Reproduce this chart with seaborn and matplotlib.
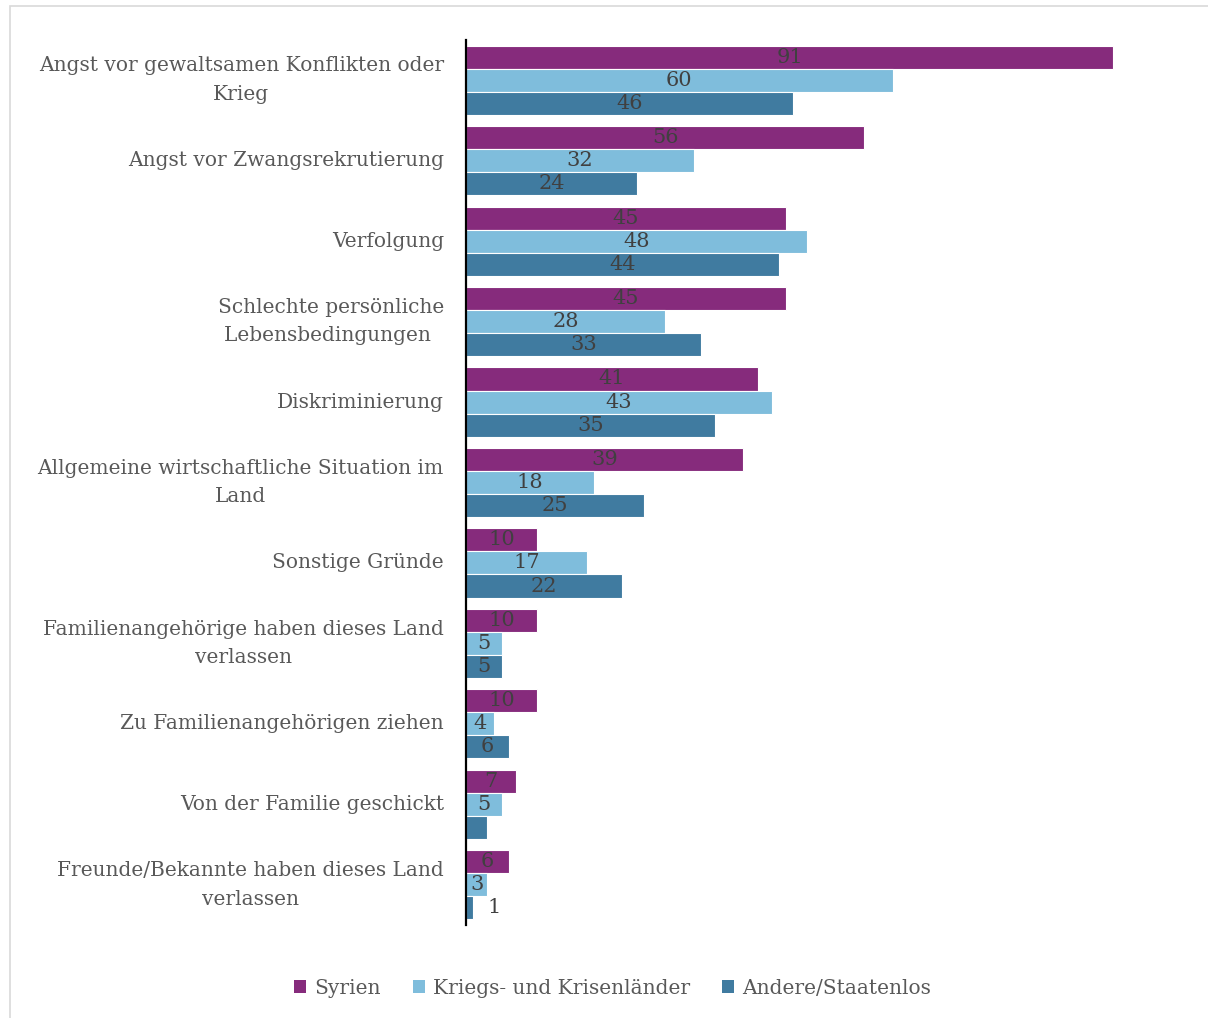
import matplotlib
matplotlib.use("Agg")
import matplotlib.pyplot as plt
import seaborn as sns
import pandas as pd
from matplotlib.patches import Rectangle, Patch

categories = [
    "Angst vor gewaltsamen Konflikten oder\nKrieg",
    "Angst vor Zwangsrekrutierung",
    "Verfolgung",
    "Schlechte persönliche\nLebensbedingungen ",
    "Diskriminierung",
    "Allgemeine wirtschaftliche Situation im\nLand",
    "Sonstige Gründe",
    "Familienangehörige haben dieses Land\nverlassen",
    "Zu Familienangehörigen ziehen",
    "Von der Familie geschickt",
    "Freunde/Bekannte haben dieses Land\nverlassen",
]
series = ["Syrien", "Kriegs- und Krisenländer", "Andere/Staatenlos"]
syrien = [91, 56, 45, 45, 41, 39, 10, 10, 10, 7, 6]
krisen = [60, 32, 48, 28, 43, 18, 17, 5, 4, 5, 3]
andere = [46, 24, 44, 33, 35, 25, 22, 5, 6, 3, 1]
# labels shown in the reference (one small bar carries no label)
andere_labels = ["46", "24", "44", "33", "35", "25", "22", "5", "6", "", "1"]

colors = ["#862B7C", "#7FBDDC", "#407BA0"]

sns.set_theme(style="white")
plt.rcParams["font.family"] = ["DejaVu Serif"]

rows = []
for vals, s in zip([syrien, krisen, andere], series):
    for c, v in zip(categories, vals):
        rows.append({"cat": c, "series": s, "val": v})
df = pd.DataFrame(rows)

fig = plt.figure(figsize=(12.08, 10.18), dpi=100)
ax = fig.add_axes([466/1208, 1-925/1018, 711/1208, 885/1018])
sns.barplot(data=df, y="cat", x="val", hue="series", order=categories,
            hue_order=series, palette=colors, orient="h", width=0.86,
            saturation=1, edgecolor="white", linewidth=0.8, ax=ax, legend=False)

ax.set_xlim(0, 100)
ax.set_ylim(10.5, -0.5)
ax.set_xlabel("")
ax.set_ylabel("")
ax.set_xticks([])
for s in ["top", "right", "bottom"]:
    ax.spines[s].set_visible(False)
ax.spines["left"].set_color("black")
ax.spines["left"].set_linewidth(1.6)
ax.tick_params(axis="y", length=0, pad=16, labelsize=14.5, labelcolor="#595959")
for t in ax.get_yticklabels():
    t.set_multialignment("center")
    t.set_linespacing(1.65)
    t.set_verticalalignment("center")

label_sets = [[str(v) for v in syrien], [str(v) for v in krisen], andere_labels]
for cont, labs in zip(ax.containers, label_sets):
    for p, lab in zip(cont.patches, labs):
        if not lab:
            continue
        w = p.get_width()
        y = p.get_y() + p.get_height() / 2
        x = w / 2 if w >= 2 else w + 3
        ax.text(x, y, lab, ha="center", va="center", fontsize=15,
                color="#404040")

handles = [Patch(facecolor=c, edgecolor="none") for c in colors]
fig.legend(handles, series, loc="center", bbox_to_anchor=(0.507, 1-988/1018),
           ncol=3, frameon=False, fontsize=14.5, handlelength=0.6,
           handleheight=0.6, handletextpad=0.4, columnspacing=1.6,
           labelcolor="#595959")

fig.add_artist(Rectangle((10/1208, -0.01), 1.0, 1.01 - 6/1018,
                         transform=fig.transFigure, fill=False,
                         edgecolor="#d9d9d9", linewidth=1.2))

fig.savefig("out.png", dpi=100)
